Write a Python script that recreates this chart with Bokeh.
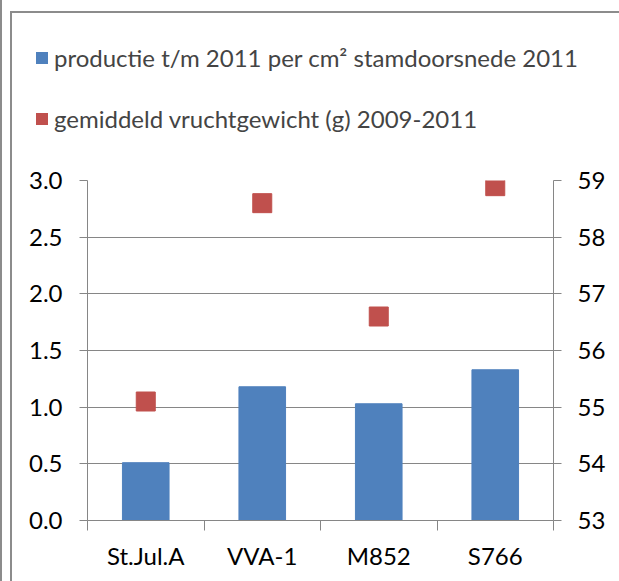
from bokeh.plotting import figure
from bokeh.layouts import column
from bokeh.models import (Range1d, FactorRange, LinearAxis, FixedTicker, Grid,
                          NumeralTickFormatter, Legend, LegendItem)
from bokeh.embed import file_html
from bokeh.resources import INLINE

categories = ["St.Jul.A", "VVA-1", "M852", "S766"]
productie = [0.51, 1.18, 1.03, 1.33]
vruchtgewicht = [55.1, 58.6, 56.6, 58.9]
left_ticks = [0.0, 0.5, 1.0, 1.5, 2.0, 2.5, 3.0]
right_ticks = [53, 54, 55, 56, 57, 58, 59]
label_prod = "productie t/m 2011 per cm² stamdoorsnede 2011"
label_gew = "gemiddeld vruchtgewicht (g) 2009-2011"

FONT = "Lato"
FS = "24px"
GRID = "#868686"
BLUE = "#4F81BD"
RED = "#C0504D"
EDGE = "#8c8c8c"

n = len(categories)

def line_bg(top_px):
    parts = [f"linear-gradient({EDGE},{EDGE}) 10px {top_px}px / 2px 100% no-repeat",
             f"linear-gradient({EDGE},{EDGE}) 0 0 / 2px 100% no-repeat"]
    if top_px:
        parts.append(f"linear-gradient({EDGE},{EDGE}) 10px {top_px}px / 100% 2px no-repeat")
    return ", ".join(parts) + ", white"

# ---- legend strip (top); its renderers are zero-size copies that only feed the legend ----
top = figure(x_range=FactorRange(*categories), y_range=Range1d(-20, -10),
             width=619, height=166, output_backend="svg", toolbar_location=None,
             x_axis_location=None, y_axis_location=None, min_border=0, frame_align=False)
top.outline_line_color = None
top.border_fill_alpha = 0
top.background_fill_alpha = 0
top.center = [r for r in top.center if not isinstance(r, Grid)]
top.styles = {"background": line_bg(11)}
top.extra_y_ranges = {"right": Range1d(-20, -10)}
leg_bar = top.vbar(x=categories, bottom=productie, top=productie, width=0,
                   fill_color=BLUE, line_color=None)
leg_pt = top.rect(x=categories, y=vruchtgewicht, width=0, height=0, width_units="screen",
                  height_units="screen", fill_color=RED, line_color=None,
                  y_range_name="right")
legend = Legend(items=[LegendItem(label=label_prod, renderers=[leg_bar]),
                       LegendItem(label=label_gew, renderers=[leg_pt])],
                location=(34, 33), padding=0, margin=0, spacing=32,
                glyph_width=15, glyph_height=15, label_height=24, label_standoff=5,
                label_text_font=FONT, label_text_font_size=FS,
                border_line_color=None, background_fill_alpha=0)
top.add_layout(legend)

# ---- main chart ----
p = figure(x_range=FactorRange(*categories), y_range=Range1d(0, 3),
           width=619, height=415, output_backend="svg", toolbar_location=None,
           x_axis_location=None, y_axis_location=None, frame_align=False,
           min_border_left=87, min_border_right=66, min_border_top=14, min_border_bottom=61)
p.outline_line_color = None
p.border_fill_alpha = 0
p.background_fill_color = "white"
p.styles = {"background": line_bg(0)}
p.extra_y_ranges = {"right": Range1d(53, 59)}
p.center = [r for r in p.center if not isinstance(r, Grid)]

def style_axis(ax):
    ax.axis_line_color = GRID
    ax.major_tick_line_color = GRID
    ax.minor_tick_line_color = GRID
    ax.major_label_text_font = FONT
    ax.major_label_text_font_size = FS
    ax.major_label_text_color = "black"
    ax.major_tick_in = 0

yl = LinearAxis(ticker=FixedTicker(ticks=left_ticks, minor_ticks=[]),
                formatter=NumeralTickFormatter(format="0.0"))
style_axis(yl)
yl.major_tick_out = 8
yl.major_label_standoff = 17
p.add_layout(yl, "left")

yr = LinearAxis(y_range_name="right", ticker=FixedTicker(ticks=right_ticks, minor_ticks=[]))
style_axis(yr)
yr.major_tick_out = 8
yr.major_label_standoff = 16
p.add_layout(yr, "right")

# category centres and boundaries in the factor range's synthetic coordinates
centers = [i + 0.5 for i in range(n)]
xa = LinearAxis(ticker=FixedTicker(ticks=centers, minor_ticks=list(range(n + 1))),
                major_label_overrides={c: cat for c, cat in zip(centers, categories)})
style_axis(xa)
xa.major_tick_out = 0
xa.major_tick_line_color = None
xa.minor_tick_in = 0
xa.minor_tick_out = 10
xa.major_label_standoff = 10
p.add_layout(xa, "below")

p.add_layout(Grid(dimension=1, ticker=yl.ticker, grid_line_color=GRID))

bars = p.vbar(x=categories, top=productie, width=0.4, color=BLUE)
pts = p.rect(x=categories, y=vruchtgewicht, width=19, height=19,
             width_units="screen", height_units="screen",
             color=RED, y_range_name="right")

layout = column(top, p, spacing=0)
open("out.html", "w").write(file_html(layout, INLINE))
